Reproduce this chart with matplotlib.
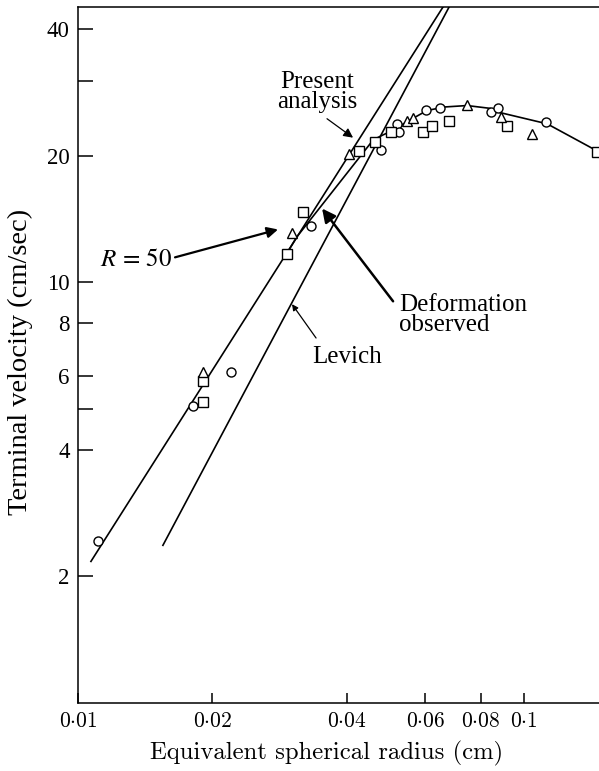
import numpy as np
import matplotlib.pyplot as plt

plt.rcParams['mathtext.fontset'] = 'cm'

# experimental points (radius cm, velocity cm/s)
circ_r = [0.0111, 0.0181, 0.0220, 0.0333, 0.0478, 0.0519, 0.0525, 0.0603, 0.0648, 0.0843, 0.0874, 0.112]
circ_v = [2.43, 5.08, 6.12, 13.6, 20.6, 23.8, 22.8, 25.7, 26.0, 25.4, 25.9, 24.1]

sq_r = [0.0191, 0.0191, 0.0294, 0.0320, 0.0427, 0.0463, 0.0503, 0.0594, 0.0622, 0.0679, 0.0916, 0.1458]
sq_v = [5.20, 5.83, 11.65, 14.65, 20.55, 21.5, 22.7, 22.8, 23.55, 24.2, 23.55, 20.45]

tri_r = [0.0191, 0.0302, 0.0405, 0.0547, 0.0564, 0.0745, 0.0888, 0.1042]
tri_v = [6.12, 13.1, 20.2, 24.2, 24.6, 26.4, 24.7, 22.5]

# straight lines (end points)
present_r = [0.01069, 0.0658]
present_v = [2.17, 45.1]
levich_r = [0.0155, 0.0679]
levich_v = [2.37, 45.1]

# curve through the experiments
exp_r = [0.0293, 0.0310, 0.0459, 0.0483, 0.0501, 0.0555, 0.0606, 0.0665, 0.0745, 0.0839, 0.0884, 0.1126, 0.1472]
exp_v = [11.65, 12.85, 21.8, 22.4, 22.8, 24.3, 25.6, 26.1, 26.3, 25.9, 25.3, 23.8, 20.4]

xticks = [0.01, 0.02, 0.04, 0.06, 0.08, 0.1]
xlabels = [r'$0{\cdot}01$', r'$0{\cdot}02$', r'$0{\cdot}04$', r'$0{\cdot}06$', r'$0{\cdot}08$', r'$0{\cdot}1$']
yticks = [2, 4, 5, 6, 8, 10, 20, 30, 40]
ylabels = ['2', '4', '', '6', '8', '10', '20', '', '40']

serif = 'Liberation Serif'

fig = plt.figure(figsize=(5.99, 7.71), dpi=100)
ax = fig.add_axes([78/599, 68/771, 521/599, 696/771])
ax.set_xscale('log')
ax.set_yscale('log')
ax.set_xlim(0.01, 0.1472)
ax.set_ylim(1.0, 45.1)

lw = 1.2
ax.plot(present_r, present_v, color='k', lw=lw)
ax.plot(levich_r, levich_v, color='k', lw=lw)
ax.plot(exp_r, exp_v, color='k', lw=lw)

mk = dict(linestyle='none', mfc='white', mec='k', mew=1.0, ms=6.5, zorder=3)
ax.plot(circ_r, circ_v, marker='o', **mk)
ax.plot(sq_r, sq_v, marker='s', **mk)
ax.plot(tri_r, tri_v, marker='^', **mk)

ax.xaxis.set_minor_locator(plt.NullLocator())
ax.yaxis.set_minor_locator(plt.NullLocator())
ax.set_xticks(xticks)
ax.set_xticklabels(xlabels, fontsize=15.5)
ax.set_yticks(yticks)
ax.set_yticklabels(ylabels, fontsize=16.5, family=serif)
ax.tick_params(axis='y', direction='in', length=10.5, width=1.1, pad=6)
ax.tick_params(axis='x', direction='in', length=7.5, width=1.1, pad=6)
ax.spines['right'].set_visible(False)
for s in ['left', 'bottom', 'top']:
    ax.spines[s].set_linewidth(1.1)

# annotations
ax.annotate('', xy=(0.04136, 22.06), xytext=(0.03616, 24.47),
            arrowprops=dict(arrowstyle='-|>', color='k', lw=0.9, mutation_scale=14,
                            shrinkA=0, shrinkB=0))
ax.text(0.0344, 28.3, 'Present\nanalysis', fontsize=18, family=serif, ha='center',
        va='center', linespacing=0.9)

ax.annotate('', xy=(0.02808, 13.35), xytext=(0.0165, 11.46),
            arrowprops=dict(arrowstyle='-|>', color='k', lw=1.6, mutation_scale=16,
                            shrinkA=0, shrinkB=0))
ax.text(0.01349, 11.34, r'$R\,=\,50$', fontsize=18, math_fontfamily='stix',
        ha='center', va='center')

ax.annotate('', xy=(0.03525, 14.97), xytext=(0.05085, 9.01),
            arrowprops=dict(arrowstyle='-|>', color='k', lw=1.8, mutation_scale=20,
                            shrinkA=0, shrinkB=0))
ax.text(0.05245, 8.35, 'Deformation\nobserved', fontsize=18, family=serif,
        ha='left', va='center', linespacing=0.9)

ax.annotate('', xy=(0.03018, 8.87), xytext=(0.03417, 7.37),
            arrowprops=dict(arrowstyle='-|>', color='k', lw=0.9, mutation_scale=9,
                            shrinkA=0, shrinkB=0))
ax.text(0.03347, 6.64, 'Levich', fontsize=18, family=serif, ha='left', va='center')

fig.text(20/599, 1 - 362/771, 'Terminal velocity (cm/sec)', rotation=90,
         fontsize=20.5, family=serif, ha='center', va='center')
fig.text(327/599, 1 - 753/771, 'Equivalent spherical radius (cm)', fontsize=17.8,
         family='cmr10', ha='center', va='center')

fig.savefig('out.png', dpi=100)
